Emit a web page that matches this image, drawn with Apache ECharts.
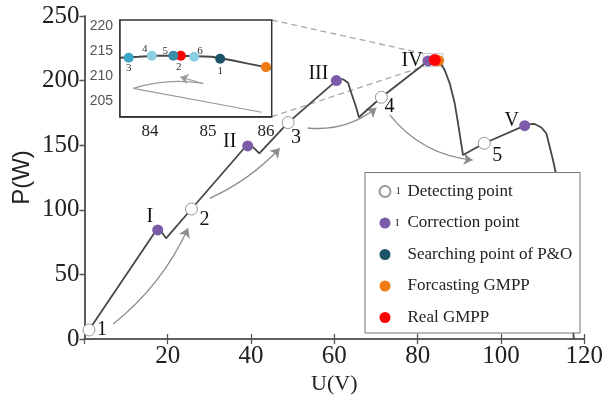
<!DOCTYPE html>
<html>
<head>
<meta charset="utf-8">
<script src="https://cdn.jsdelivr.net/npm/echarts@6/dist/echarts.min.js"></script>
<style>
html, body { margin: 0; padding: 0; background: #fff; }
#chart { width: 606px; height: 404px; }
</style>
</head>
<body>
<div id="chart"></div>
<script>
// P-U characteristic under partial shading (five local peaks)
const curveU = [1.1, 17.0, 17.6, 18.3, 19.6, 25.7, 38.5, 39.2, 40.0, 40.8, 42.0,
  48.9, 60.5, 61.3, 62.1, 63.3, 64.1, 65.2, 65.9, 71.3, 82.5, 84.1, 85.3, 86.5,
  87.7, 88.9, 89.7, 90.9, 96.0, 105.7, 107.0, 108.1, 109.7, 110.9, 111.7, 112.5,
  113.1, 115.0, 116.5, 117.5];
const curveP = [7.0, 83.0, 84.4, 84.0, 77.9, 100.6, 148.2, 149.4, 149.6, 147.5, 143.7,
  167.5, 200.0, 201.2, 201.0, 198.4, 190.2, 179.8, 171.6, 187.1, 215.2, 215.9, 214.6, 208.2,
  197.9, 182.4, 167.0, 142.4, 151.5, 165.1, 166.3, 166.4, 163.7, 159.2, 148.8, 138.5,
  129.5, 85.0, 40.0, 0.0];

// Detecting points 1..5
const detectU = [1.1, 25.7, 48.9, 71.3, 96.0];
const detectP = [7.0, 100.6, 167.5, 187.1, 151.5];
const detectLabels = ['1', '2', '3', '4', '5'];

// Correction points I..V (local peaks)
const correctU = [17.6, 39.2, 60.5, 82.5, 105.7];
const correctP = [84.4, 149.4, 200.0, 215.2, 165.1];
const correctLabels = ['I', 'II', 'III', 'IV', 'V'];

// Global maximum on the full curve
const realGmppMain = [84.1, 215.9];
const forecastGmppMain = [85.0, 215.5];

// Jump arrows between detecting points
const jumpFrom = [[6.9, 11.6], [30.1, 108.9], [53.6, 163.3], [73.3, 173.4]];
const jumpTo = [[24.9, 85.7], [46.9, 147.6], [70.1, 178.8], [93.2, 138.5]];
const jumpBend = [-0.12, -0.1, -0.2, -0.21];

// Zoomed region around the GMPP
const zoomU = [83.48, 86.1];
const zoomP = [201.8, 221.3];
const zoomBoxU = [81.3, 86.1];
const zoomBoxP = [210.8, 221.0];

const insetCurveU = [83.48, 83.8, 84.1, 84.5, 84.8, 85.06, 85.21, 85.41, 85.69, 86.0, 86.1];
const insetCurveP = [213.7, 213.9, 214.1, 214.1, 214.0, 213.9, 213.6, 213.2, 212.5, 211.8, 211.4];

// P&O search steps inside the zoom
const searchU = [83.63, 84.03, 84.40, 84.76, 85.21];
const searchP = [213.7, 214.1, 214.1, 213.9, 213.5];
const searchLabels = ['3', '4', '5', '6', '1'];
const searchColors = ['#3ba7c6', '#8dcfe2', '#3b8ea8', '#8dcfe2', '#1d5368'];
const realGmppInset = [84.53, 214.1];
const forecastGmppInset = [86.0, 211.8];

// P&O trajectory sketch inside the zoom
const pathFrom = [[85.93, 202.7], [83.71, 207.5], [84.92, 208.5]];
const pathTo = [[83.71, 207.5], [84.92, 208.5], [84.52, 209.8]];
const pathBend = [0, 0.12, 0];

const legendNames = ['Detecting point', 'Correction point', 'Searching point of P&O', 'Forcasting GMPP', 'Real GMPP'];

const SERIF = 'Liberation Serif';
const SANS = 'Liberation Sans';
const PURPLE = '#7c5ca8';
const ORANGE = '#f07a14';
const RED = '#ff0000';
const TEAL = '#1d5368';

const detectOffsets = [[13, 0], [13, 11], [8, 15], [8, 9], [13, 12]];
const correctOffsets = [[-8, -13], [-18, -4], [-18, -7], [-16, 0], [-13, -5]];
const searchOffsets = [[0, 10], [-7, -7], [-8, -5], [6, -6], [0, 12]];

const chart = echarts.init(document.getElementById('chart'), null, { renderer: 'canvas' });

const axisLineStyle = { lineStyle: { color: '#555', width: 1.6 } };
const tickInside = { show: true, inside: true, length: 5, lineStyle: { color: '#555', width: 1.3 } };

const option = {
  animation: false,
  backgroundColor: '#fff',
  grid: [
    { left: 84.4, right: 21.6, top: 16, bottom: 65 },
    { left: 120, top: 20, width: 151.7, height: 96.7, show: true, backgroundColor: '#fff',
      borderColor: '#333', borderWidth: 1.5, z: 3 }
  ],
  xAxis: [
    { gridIndex: 0, type: 'value', min: 0, max: 120, interval: 20,
      axisLine: axisLineStyle, axisTick: tickInside, splitLine: { show: false },
      axisLabel: { showMinLabel: false, fontFamily: SERIF, fontSize: 25, color: '#222', margin: 5 },
      name: 'U(V)', nameLocation: 'middle', nameGap: 34, nameMoveOverlap: false,
      nameTextStyle: { fontFamily: SERIF, fontSize: 22, color: '#222' } },
    { gridIndex: 0, type: 'value', position: 'top', min: 0, max: 120, interval: 20,
      axisLine: axisLineStyle, axisTick: tickInside, axisLabel: { show: false }, splitLine: { show: false } },
    { gridIndex: 1, type: 'value', min: zoomU[0], max: zoomU[1], splitNumber: 3,
      axisLine: { lineStyle: { color: '#333', width: 1.5 } },
      axisTick: { show: true, inside: true, length: 4, lineStyle: { color: '#333' } },
      splitLine: { show: false },
      axisLabel: { fontFamily: SERIF, fontSize: 17, color: '#222', margin: 6,
        formatter: v => Math.abs(v - Math.round(v)) < 1e-6 ? String(Math.round(v)) : '' } }
  ],
  yAxis: [
    { gridIndex: 0, type: 'value', min: 0, max: 250, interval: 50,
      axisLine: axisLineStyle,
      axisTick: { show: true, inside: false, length: 4, lineStyle: { color: '#555', width: 1.3 } },
      splitLine: { show: false },
      axisLabel: { fontFamily: SERIF, fontSize: 25, color: '#222', margin: 5 },
      name: 'P(W)', nameLocation: 'middle', nameGap: 50, nameRotate: 90, nameMoveOverlap: false,
      nameTextStyle: { fontFamily: SANS, fontSize: 24, color: '#222' } },
    { gridIndex: 0, type: 'value', position: 'right', min: 0, max: 250, interval: 50,
      axisLine: axisLineStyle, axisTick: tickInside, axisLabel: { show: false }, splitLine: { show: false } },
    { gridIndex: 1, type: 'value', min: zoomP[0], max: zoomP[1], splitNumber: 4,
      axisLine: { lineStyle: { color: '#333', width: 1.5 } },
      axisTick: { show: true, inside: true, length: 4, lineStyle: { color: '#333' } },
      splitLine: { show: false },
      axisLabel: { fontFamily: SANS, fontSize: 14, color: '#555', margin: 7,
        formatter: v => Math.abs(v / 5 - Math.round(v / 5)) < 1e-6 ? String(Math.round(v)) : '' } }
  ],
  legend: {
    data: legendNames,
    orient: 'vertical',
    left: 378.5,
    top: 181.5,
    padding: 0,
    itemWidth: 11,
    itemHeight: 11,
    itemGap: 11.5,
    icon: 'circle',
    selectedMode: false,
    z: 60,
    formatter: name => {
      const tag = name === 'Detecting point' ? '1' : (name === 'Correction point' ? 'I' : ' ');
      return '{n|' + tag + '}{t|' + name + '}';
    },
    textStyle: {
      color: '#222',
      lineHeight: 20,
      rich: {
        n: { fontFamily: SERIF, fontSize: 11, width: 12, color: '#333', verticalAlign: 'middle' },
        t: { fontFamily: SERIF, fontSize: 17, color: '#222', lineHeight: 20 }
      }
    }
  },
  graphic: [
    { id: 'legendBox', type: 'rect', z: 50,
      shape: { x: 365, y: 172.5, width: 215, height: 160.5 },
      style: { fill: '#fff', stroke: '#777', lineWidth: 1 } }
  ],
  series: [
    { name: 'P-U curve', type: 'line', xAxisIndex: 0, yAxisIndex: 0, symbol: 'none', z: 3,
      lineStyle: { color: '#474747', width: 1.8 },
      data: curveU.map((u, i) => [u, curveP[i]]) },
    { name: 'jumps', type: 'lines', coordinateSystem: 'cartesian2d', xAxisIndex: 0, yAxisIndex: 0,
      symbol: ['none', 'arrow'], symbolSize: 9, z: 2,
      lineStyle: { color: '#8c8c8c', width: 1.3, opacity: 1 },
      data: jumpFrom.map((p, i) => ({ coords: [p, jumpTo[i]], lineStyle: { curveness: jumpBend[i] } })) },
    { name: 'Detecting point', type: 'scatter', xAxisIndex: 0, yAxisIndex: 0, symbolSize: 12, z: 5,
      itemStyle: { color: '#fff', borderColor: '#999', borderWidth: 1, opacity: 1 },
      label: { show: true, position: 'inside', fontFamily: SERIF, fontSize: 20, color: '#111',
        formatter: p => detectLabels[p.dataIndex] },
      data: detectU.map((u, i) => ({ value: [u, detectP[i]], label: { offset: detectOffsets[i] } })) },
    { name: 'Correction point', type: 'scatter', xAxisIndex: 0, yAxisIndex: 0, symbolSize: 11, z: 5,
      itemStyle: { color: PURPLE, opacity: 1 },
      label: { show: true, position: 'inside', fontFamily: SERIF, fontSize: 20, color: '#111',
        formatter: p => correctLabels[p.dataIndex] },
      data: correctU.map((u, i) => ({ value: [u, correctP[i]], label: { offset: correctOffsets[i] } })) },
    { name: 'Forcasting GMPP', type: 'scatter', xAxisIndex: 0, yAxisIndex: 0, symbolSize: 11, z: 5,
      itemStyle: { color: ORANGE, opacity: 1 }, data: [forecastGmppMain] },
    { name: 'Real GMPP', type: 'scatter', xAxisIndex: 0, yAxisIndex: 0, symbolSize: 12, z: 6,
      itemStyle: { color: RED, opacity: 1 }, data: [realGmppMain] },
    { name: 'zoom curve', type: 'line', xAxisIndex: 2, yAxisIndex: 2, symbol: 'none', z: 4,
      lineStyle: { color: '#474747', width: 2 },
      data: insetCurveU.map((u, i) => [u, insetCurveP[i]]) },
    { name: 'P&O path', type: 'lines', coordinateSystem: 'cartesian2d', xAxisIndex: 2, yAxisIndex: 2,
      symbol: 'none', symbolSize: 8, z: 4,
      lineStyle: { color: '#9a9a9a', width: 1.2, opacity: 1 },
      data: pathFrom.map((p, i) => ({
        coords: [p, pathTo[i]],
        lineStyle: { curveness: pathBend[i] },
        symbol: i === pathFrom.length - 1 ? ['none', 'arrow'] : ['none', 'none']
      })) },
    { name: 'Real GMPP', type: 'scatter', xAxisIndex: 2, yAxisIndex: 2, symbolSize: 10, z: 5,
      itemStyle: { color: RED, opacity: 1 },
      label: { show: true, position: 'inside', offset: [-2, 11], fontFamily: SERIF, fontSize: 11,
        color: '#333', formatter: '2' },
      data: [realGmppInset] },
    { name: 'Searching point of P&O', type: 'scatter', xAxisIndex: 2, yAxisIndex: 2, symbolSize: 10, z: 6,
      itemStyle: { color: TEAL, opacity: 1 },
      label: { show: true, position: 'inside', fontFamily: SERIF, fontSize: 11, color: '#333',
        formatter: p => searchLabels[p.dataIndex] },
      data: searchU.map((u, i) => ({
        value: [u, searchP[i]],
        itemStyle: { color: searchColors[i] },
        label: { offset: searchOffsets[i] }
      })) },
    { name: 'Forcasting GMPP', type: 'scatter', xAxisIndex: 2, yAxisIndex: 2, symbolSize: 10, z: 5,
      itemStyle: { color: ORANGE, opacity: 1 }, data: [forecastGmppInset] }
  ]
};

chart.setOption(option);

// Zoom box on the main curve and dashed connectors to the inset frame
const boxTL = chart.convertToPixel({ gridIndex: 0 }, [zoomBoxU[0], zoomBoxP[1]]);
const boxBR = chart.convertToPixel({ gridIndex: 0 }, [zoomBoxU[1], zoomBoxP[0]]);
const insetTR = chart.convertToPixel({ gridIndex: 1 }, [zoomU[1], zoomP[1]]);
const insetBR = chart.convertToPixel({ gridIndex: 1 }, [zoomU[1], zoomP[0]]);
const dash = { stroke: '#a8a8a8', lineWidth: 1.3, lineDash: [6, 4] };

chart.setOption({
  graphic: [
    { id: 'legendBox', type: 'rect', z: 50,
      shape: { x: 365, y: 172.5, width: 215, height: 160.5 },
      style: { fill: '#fff', stroke: '#777', lineWidth: 1 } },
    { id: 'zoomBox', type: 'rect', z: 1,
      shape: { x: boxTL[0], y: boxTL[1], width: boxBR[0] - boxTL[0], height: boxBR[1] - boxTL[1] },
      style: { fill: 'none', stroke: '#c8c8c8', lineWidth: 1 } },
    { id: 'linkTop', type: 'line', z: 1,
      shape: { x1: insetTR[0], y1: insetTR[1], x2: boxTL[0], y2: boxTL[1] }, style: dash },
    { id: 'linkBottom', type: 'line', z: 1,
      shape: { x1: insetBR[0], y1: insetBR[1], x2: boxTL[0], y2: boxBR[1] }, style: dash }
  ]
});
</script>
</body>
</html>
